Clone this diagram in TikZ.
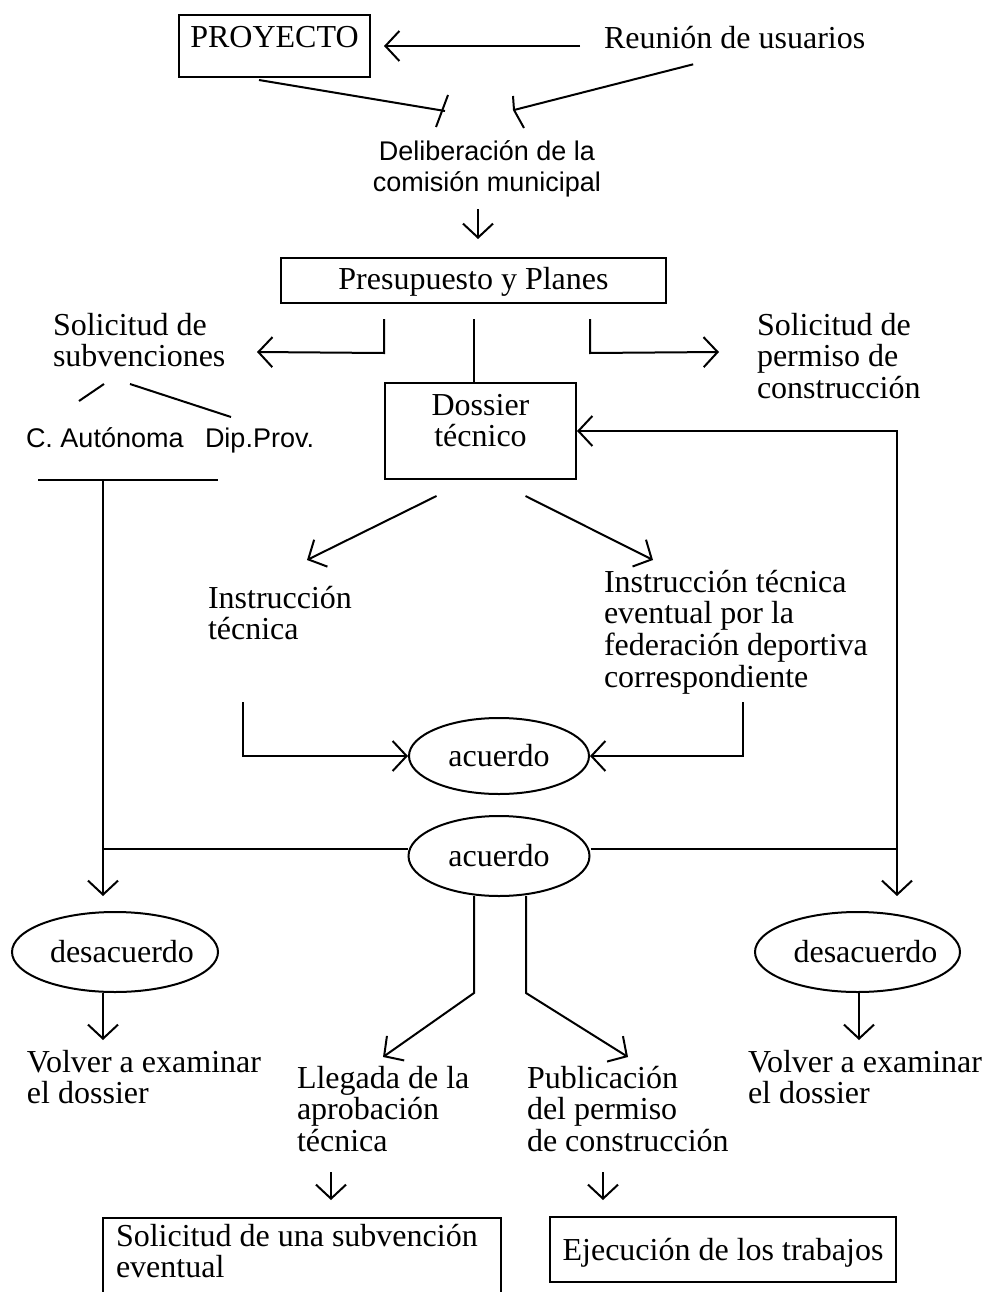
\documentclass[tikz,border=0pt]{standalone}
\usepackage{fontspec}
\setmainfont{Liberation Serif}
\setsansfont{Liberation Sans}
\usetikzlibrary{arrows.meta,shapes.geometric}
% stacked lines: [t] keeps the node baseline on the first line
\newcommand\rows[1]{\begin{tabular}[t]{@{}l@{}}#1\end{tabular}}
\newcommand\crows[1]{\begin{tabular}[t]{@{}c@{}}#1\end{tabular}}
\begin{document}
\begin{tikzpicture}[x=1pt,y=-1pt,
  line width=2pt,
  every node/.style={inner sep=0pt},
  serif/.style={font=\fontsize{32}{31.5}\selectfont},
  sans/.style={font=\sffamily\fontsize{27}{31}\selectfont},
  txt/.style={serif, anchor=base west},
  box/.style={draw, rectangle, serif},
  oval/.style={draw, ellipse, serif},
  arr/.style={-{Straight Barb[length=14pt,width=30pt]}},
]
\useasboundingbox (0,0) rectangle (984,1292);

% ---------- nodes ----------
\node[box, minimum width=191pt, minimum height=62pt, text height=22pt, text depth=18pt] (proj) at (274.5,46) {PROYECTO};
\node[txt] (reun) at (603,49) {Reunión de usuarios};
\node[sans, anchor=base] (delib) at (487,161) {\crows{Deliberación de la\\comisión municipal}};
\node[box, minimum width=385pt, minimum height=45pt, text height=22pt, text depth=5pt] (presup) at (473.5,280.5) {Presupuesto y Planes};
\node[txt] (subv) at (52,335) {\rows{Solicitud de\\subvenciones}};
\node[txt] (perm) at (756,335) {\rows{Solicitud de\\permiso de\\construcción}};
\node[box, minimum width=191pt, minimum height=96pt, text height=22pt, text depth=54pt] (doss) at (480.5,431) {\crows{Dossier\\técnico}};
\node[sans, anchor=base west] (cauto) at (25,447) {C. Autónoma};
\node[sans, anchor=base west] (dip) at (204,447) {Dip.Prov.};
\node[txt] (instr) at (207,608) {\rows{Instrucción\\técnica}};
\node[txt] (fed) at (603,592) {\rows{Instrucción técnica\\eventual por la\\federación deportiva\\correspondiente}};
\node[oval, minimum width=180pt, minimum height=76pt] (ac1) at (499,756) {acuerdo};
\node[oval, minimum width=181pt, minimum height=80pt] (ac2) at (499,856) {acuerdo};
\node[oval, inner xsep=-10pt, minimum width=206pt, minimum height=80pt] (desL) at (115,952) {\hspace*{14pt}desacuerdo};
\node[oval, inner xsep=-10pt, minimum width=205pt, minimum height=80pt] (desR) at (857.5,952) {\hspace*{16pt}desacuerdo};
\node[txt] (volL) at (26,1072) {\rows{Volver a examinar\\el dossier}};
\node[txt] (volR) at (747,1072) {\rows{Volver a examinar\\el dossier}};
\node[txt] (lleg) at (296,1088) {\rows{Llegada de la\\aprobación\\técnica}};
\node[txt] (publ) at (526,1088) {\rows{Publicación\\del permiso\\de construcción}};
\node[box, anchor=north west, minimum height=100pt, inner xsep=13pt, inner ysep=6pt, text height=22pt, text depth=66pt] (subv2) at (102,1217) {\makebox[372pt][l]{\rows{Solicitud de una subvención\\eventual}}};
\node[box, minimum width=346pt, minimum height=65pt, text height=22pt, text depth=1pt] (exec) at (723,1249.5) {Ejecución de los trabajos};

% ---------- junction points ----------
\coordinate (delL) at (445,111);
\coordinate (delR) at (514,110);
\coordinate (barc) at (103,480);
\coordinate (jL) at (103,849);
\coordinate (jR) at (897,849);

% ---------- top ----------
\draw[arr, shorten >=13pt] ([xshift=-23pt]reun.west |- proj.east) -- (proj.east);
\draw ([xshift=-15.5pt,yshift=-2pt]proj.south) -- (delL);
\draw (delL) ++(3,-16) -- ++(-12,32);
\draw ([xshift=-41.5pt,yshift=-14pt]reun.south) -- (delR);
\draw (delR) ++(-1,-14) -- (delR) -- ++(10,18);
\draw[arr, shorten <=7pt, shorten >=18pt] ([xshift=4.5pt]presup.north |- delib.south) -- ([xshift=4.5pt]presup.north);

% ---------- budget split ----------
\draw[arr] ([xshift=-89.5pt,yshift=-15pt]presup.south) -- ++(0,34) -- (257,352);
\draw[arr] ([xshift=116.5pt,yshift=-15pt]presup.south) -- ++(0,34) -- (719,352);
\draw ([yshift=-15pt]presup.south) -- (presup.south |- doss.north);

% ---------- subsidies ----------
\draw (104,384) -- (79,401);
\draw (130,384) -- (231,417);
\draw (38,480) -- (218,480);
\draw (barc) -- (jL);
\draw[arr, shorten >=15pt] (jL) -- (jL |- desL.north);

% ---------- technical instruction ----------
\draw[arr] ([xshift=-44pt,yshift=-16pt]doss.south) -- (307,560);
\draw[arr] ([xshift=45pt,yshift=-16pt]doss.south) -- (653,560);
\draw[arr] (243,702) |- (ac1.west);
\draw[arr] (743,702) |- (ac1.east);

% ---------- agreement ----------
\draw (jL) -- (ac2.west |- jL);
\draw (ac2.east |- jR) -- (jR);
\draw[arr] (jR) |- (doss.east);
\draw[arr, shorten >=15pt] (jR) -- (jR |- desR.north);
\draw[arr] (jL |- desL.south) -- ++(0,47);
\draw[arr] ([xshift=1.5pt]desR.south) -- ++(0,47);
\draw[arr] ([xshift=-25pt,yshift=1pt]ac2.south) -- ++(0,97) -- (383,1057);
\draw[arr] ([xshift=27pt,yshift=1pt]ac2.south) -- ++(0,97) -- (628,1057);

% ---------- final steps ----------
\draw[arr] ([xshift=35pt,yshift=-84pt]lleg.base west) -- ++(0,28);
\draw[arr] ([xshift=77pt,yshift=-84pt]publ.base west) -- ++(0,28);
\end{tikzpicture}
\end{document}
